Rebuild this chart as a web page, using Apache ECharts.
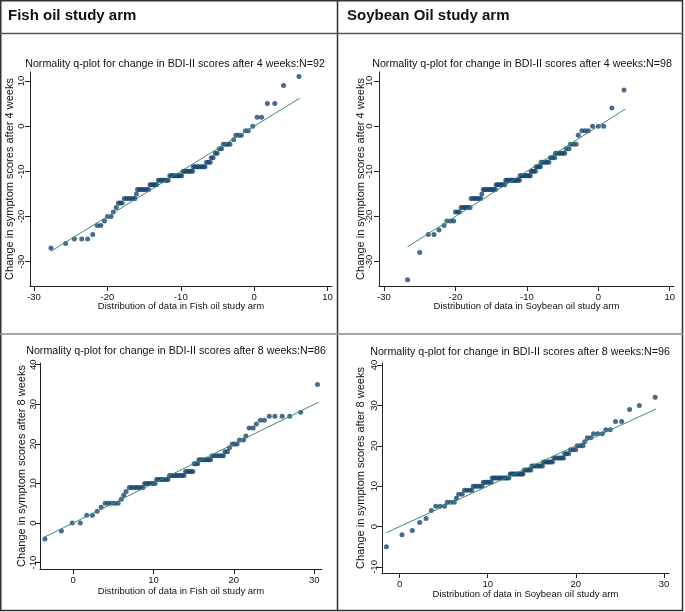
<!DOCTYPE html>
<html>
<head>
<meta charset="utf-8">
<script src="https://cdn.jsdelivr.net/npm/echarts@6/dist/echarts.min.js"></script>
<style>
html,body{margin:0;padding:0;background:#fff;}
#chart{width:685px;height:612px;}
</style>
</head>
<body>
<div id="chart"></div>
<script>
// ---------- headers and titles ----------
const headers = ['Fish oil study arm', 'Soybean Oil study arm'];
const plotTitles = [
  'Normality q-plot for change in BDI-II scores after 4 weeks:N=92',
  'Normality q-plot for change in BDI-II scores after 4 weeks:N=98',
  'Normality q-plot for change in BDI-II scores after 8 weeks:N=86',
  'Normality q-plot for change in BDI-II scores after 8 weeks:N=96'
];
const xTitles = [
  'Distribution of data in Fish oil study arm',
  'Distribution of data in Soybean oil study arm',
  'Distribution of data in Fish oil study arm',
  'Distribution of data in Soybean oil study arm'
];
const yTitles = [
  'Change in symptom scores after 4 weeks',
  'Change in symptom scores after 4 weeks',
  'Change in symptom scores after 8 weeks',
  'Change in symptom scores after 8 weeks'
];

// ---------- tick labels ----------
const xTicks4w = [-30, -20, -10, 0, 10];
const yTicks4w = [-30, -20, -10, 0, 10];
const xTicks8w = [0, 10, 20, 30];
const yTicks8w = [-10, 0, 10, 20, 30, 40];

// ---------- Fish oil, 4 weeks (N=92) ----------
const fish4X = [-27.7,-25.7,-24.5,-23.5,-22.7,-22.0,-21.4,-20.9,-20.4,-20.0,-19.5,-19.2,-18.8,
  -18.5,-18.25,-18.0,
  -17.7,-17.4,-17.1,-16.8,-16.5,-16.25,
  -16.05,
  -15.9,-15.65,-15.4,-15.15,-14.9,-14.65,-14.4,
  -14.2,-13.98,-13.75,-13.52,-13.3,
  -13.05,-12.83,-12.6,-12.38,-12.16,-11.94,-11.72,
  -11.5,-11.3,-11.1,-10.9,-10.7,-10.5,-10.3,-10.1,-9.9,
  -9.7,-9.48,-9.27,-9.05,-8.84,-8.62,-8.4,
  -8.3,-8.07,-7.84,-7.61,-7.38,-7.15,-6.92,-6.7,
  -6.5,-6.25,-6.0,
  -5.85,-5.6,
  -5.3,-5.05,
  -4.75,-4.45,
  -4.2,-3.9,-3.6,-3.3,
  -2.8,
  -2.5,-2.1,-1.75,
  -1.2,-0.8,
  -0.2,
  0.4,1.0,
  1.8,2.8,
  4.0,
  6.1];
const fish4Y = [-27,-26,-25,-25,-25,-24,-22,-22,-21,-20,-20,-19,-18,
  -17,-17,-17,
  -16,-16,-16,-16,-16,-16,
  -15,
  -14,-14,-14,-14,-14,-14,-14,
  -13,-13,-13,-13,-13,
  -12,-12,-12,-12,-12,-12,-12,
  -11,-11,-11,-11,-11,-11,-11,-11,-11,
  -10,-10,-10,-10,-10,-10,-10,
  -9,-9,-9,-9,-9,-9,-9,-9,
  -8,-8,-8,
  -7,-7,
  -6,-6,
  -5,-5,
  -4,-4,-4,-4,
  -3,
  -2,-2,-2,
  -1,-1,
  0,
  2,2,
  5,5,
  9,
  11];
const fish4Line = [-27.7, 6.2];

// ---------- Soybean oil, 4 weeks (N=98) ----------
const soy4X = [-26.7,-25.0,-23.8,-23.0,-22.3,-21.6,
  -21.2,-20.7,-20.25,
  -20.0,-19.7,-19.45,
  -19.2,-18.95,-18.7,-18.45,-18.2,-17.95,
  -17.8,-17.52,-17.24,-16.96,-16.68,-16.45,
  -16.3,
  -16.1,-15.89,-15.68,-15.46,-15.25,-15.04,-14.83,-14.61,-14.4,
  -14.3,-14.1,-13.9,-13.7,-13.5,-13.3,-13.1,
  -12.95,-12.77,-12.6,-12.43,-12.25,-12.08,-11.9,-11.73,-11.56,-11.38,-11.2,-11.05,
  -10.95,-10.77,-10.6,-10.42,-10.24,-10.06,-9.88,-9.7,-9.52,
  -9.4,-9.2,-9.0,-8.8,
  -8.7,-8.5,-8.3,-8.1,
  -8.0,-7.73,-7.46,-7.19,-6.92,
  -6.7,-6.4,-6.1,
  -6.0,-5.74,-5.48,-5.22,-4.96,-4.7,
  -4.5,-4.1,
  -3.9,-3.5,-3.1,
  -2.8,
  -2.3,-1.85,-1.4,
  -0.8,0.0,0.75,
  1.9,
  3.6];
const soy4Y = [-34,-28,-24,-24,-23,-22,
  -21,-21,-21,
  -19,-19,-19,
  -18,-18,-18,-18,-18,-18,
  -16,-16,-16,-16,-16,-16,
  -15,
  -14,-14,-14,-14,-14,-14,-14,-14,-14,
  -13,-13,-13,-13,-13,-13,-13,
  -12,-12,-12,-12,-12,-12,-12,-12,-12,-12,-12,-12,
  -11,-11,-11,-11,-11,-11,-11,-11,-11,
  -10,-10,-10,-10,
  -9,-9,-9,-9,
  -8,-8,-8,-8,-8,
  -7,-7,-7,
  -6,-6,-6,-6,-6,-6,
  -5,-5,
  -4,-4,-4,
  -2,
  -1,-1,-1,
  0,0,0,
  4,
  8];
const soy4Line = [-26.7, 3.8];

// ---------- Fish oil, 8 weeks (N=86) ----------
const fish8X = [-3.5,-1.45,-0.1,0.9,1.7,2.4,3.0,3.5,
  4.0,4.4,4.8,5.2,5.6,
  6.0,6.3,6.6,
  7.0,7.28,7.56,7.85,8.13,8.42,8.7,
  8.9,9.16,9.42,9.68,9.94,10.2,
  10.4,10.63,10.87,11.1,11.33,11.57,11.8,
  12.0,12.22,12.45,12.67,12.9,13.12,13.35,13.57,13.8,
  14.0,14.22,14.45,14.67,14.9,
  15.05,15.28,15.5,
  15.65,15.9,16.15,16.4,16.65,16.9,17.1,
  17.3,17.58,17.86,18.14,18.42,18.7,
  18.9,19.2,
  19.45,
  19.8,20.1,20.4,
  20.7,21.2,
  21.5,
  21.9,22.4,
  22.8,
  23.3,23.8,
  24.4,25.1,26.0,26.95,
  28.3,
  30.4];
const fish8Y = [-4,-2,0,0,2,2,3,4,
  5,5,5,5,5,
  6,7,8,
  9,9,9,9,9,9,9,
  10,10,10,10,10,10,
  11,11,11,11,11,11,11,
  12,12,12,12,12,12,12,12,12,
  13,13,13,13,13,
  15,15,15,
  16,16,16,16,16,16,16,
  17,17,17,17,17,17,
  18,18,
  19,
  20,20,20,
  21,21,
  22,
  24,24,
  25,
  26,26,
  27,27,27,27,
  28,
  35];
const fish8Line = [-3.6, 30.5];

// ---------- Soybean oil, 8 weeks (N=96) ----------
const soy8X = [-1.5,0.27,1.44,2.27,3.0,3.6,
  4.1,4.6,5.1,
  5.4,5.8,6.2,
  6.45,
  6.7,7.1,
  7.35,7.63,7.92,8.2,
  8.35,8.6,8.85,9.1,9.35,
  9.5,9.72,9.95,10.17,10.4,
  10.5,10.69,10.88,11.07,11.26,11.45,11.64,11.83,12.02,12.21,12.4,
  12.55,12.71,12.88,13.04,13.2,13.37,13.53,13.7,13.86,14.0,
  14.15,14.33,14.52,14.7,14.88,
  15.0,15.2,15.4,15.6,15.8,16.0,16.2,
  16.32,16.53,16.74,16.94,17.15,17.35,
  17.5,17.72,17.94,18.16,18.38,18.6,
  18.72,18.95,19.18,
  19.38,19.68,19.98,
  20.15,20.47,20.8,
  21.0,
  21.3,21.7,
  22.0,22.5,23.0,
  23.4,23.9,
  24.5,25.2,
  26.1,
  27.2,
  29.0];
const soy8Y = [-5,-2,-1,1,2,4,
  5,5,5,
  6,6,6,
  7,
  8,8,
  9,9,9,9,
  10,10,10,10,10,
  11,11,11,11,11,
  12,12,12,12,12,12,12,12,12,12,12,
  13,13,13,13,13,13,13,13,13,13,
  14,14,14,14,14,
  15,15,15,15,15,15,15,
  16,16,16,16,16,16,
  17,17,17,17,17,17,
  18,18,18,
  19,19,19,
  20,20,20,
  21,
  22,22,
  23,23,23,
  24,24,
  26,26,
  29,
  30,
  32];
const soy8Line = [-1.5, 29.1];

// ---------- build chart ----------
const FONT = 'Liberation Sans, Arial, sans-serif';
const dotColor = '#1a476f';
const lineColor = '#3d8c78';

const panels = [
  {x: fish4X, y: fish4Y, line: fish4Line, xt: xTicks4w, yt: yTicks4w,
   grid: {left: 30, top: 72, width: 302, height: 214}, xr: [-30.55, 10.6], yr: [-35.4, 12.0],
   title: [175, 64], xnameGap: 15, ynameGap: 14.5, ylabMargin: 3.5},
  {x: soy4X, y: soy4Y, line: soy4Line, xt: xTicks4w, yt: yTicks4w,
   grid: {left: 379, top: 72, width: 295, height: 214}, xr: [-30.7, 10.6], yr: [-35.4, 12.0],
   title: [522, 64], xnameGap: 15, ynameGap: 12.5, ylabMargin: 5},
  {x: fish8X, y: fish8Y, line: fish8Line, xt: xTicks8w, yt: yTicks8w,
   grid: {left: 40, top: 363, width: 282, height: 206}, xr: [-4.11, 30.96], yr: [-11.6, 40.43],
   title: [176, 351], xnameGap: 17, ynameGap: 13, ylabMargin: 1.5},
  {x: soy8X, y: soy8Y, line: soy8Line, xt: xTicks8w, yt: yTicks8w,
   grid: {left: 382, top: 363, width: 287, height: 210}, xr: [-2.0, 30.57], yr: [-11.5, 40.5],
   title: [520, 352], xnameGap: 16, ynameGap: 15.5, ylabMargin: 2.5}
];

const grids = [], xAxes = [], yAxes = [], series = [];
const graphics = [];

panels.forEach((p, i) => {
  grids.push(Object.assign({containLabel: false}, p.grid));
  xAxes.push({
    type: 'value', gridIndex: i, min: p.xr[0], max: p.xr[1],
    name: xTitles[i], nameLocation: 'middle', nameGap: p.xnameGap, nameMoveOverlap: false,
    nameTextStyle: {fontFamily: FONT, fontSize: 9.5, color: '#111'},
    axisLine: {show: true, onZero: false, lineStyle: {color: '#222', width: 1}},
    axisTick: {show: true, length: 5, customValues: p.xt, lineStyle: {color: '#222'}},
    axisLabel: {show: true, customValues: p.xt, margin: 6, fontFamily: FONT, fontSize: 9.5, color: '#111'},
    splitLine: {show: false}
  });
  yAxes.push({
    type: 'value', gridIndex: i, min: p.yr[0], max: p.yr[1],
    name: yTitles[i], nameLocation: 'middle', nameGap: p.ynameGap, nameRotate: 90, nameMoveOverlap: false,
    nameTextStyle: {fontFamily: FONT, fontSize: 11, color: '#111'},
    axisLine: {show: true, onZero: false, lineStyle: {color: '#222', width: 1}},
    axisTick: {show: true, length: 5, customValues: p.yt, lineStyle: {color: '#222'}},
    axisLabel: {show: true, customValues: p.yt, rotate: 90, margin: p.ylabMargin, fontFamily: FONT, fontSize: 9.5, color: '#111'},
    splitLine: {show: false}
  });
  series.push({
    type: 'scatter', xAxisIndex: i, yAxisIndex: i,
    data: p.x.map((v, k) => [v, p.y[k]]),
    symbol: 'circle', symbolSize: 5,
    itemStyle: {color: dotColor}
  });
  series.push({
    type: 'line', xAxisIndex: i, yAxisIndex: i,
    data: [[p.line[0], p.line[0]], [p.line[1], p.line[1]]],
    showSymbol: false, symbol: 'none',
    lineStyle: {color: lineColor, width: 1}
  });
  graphics.push({
    type: 'text', x: p.title[0], y: p.title[1], z: 10,
    style: {text: plotTitles[i], fontFamily: FONT, fontSize: 10.7, fill: '#111',
            textAlign: 'center', textVerticalAlign: 'middle'}
  });
});

// table borders
const lineStyleDark = {stroke: '#333', lineWidth: 1.5};
graphics.push(
  {type: 'line', shape: {x1: 0, y1: 0.75, x2: 683, y2: 0.75}, style: lineStyleDark},
  {type: 'line', shape: {x1: 0.75, y1: 0, x2: 0.75, y2: 611}, style: lineStyleDark},
  {type: 'line', shape: {x1: 682.5, y1: 0, x2: 682.5, y2: 611}, style: lineStyleDark},
  {type: 'line', shape: {x1: 0, y1: 610.5, x2: 683, y2: 610.5}, style: lineStyleDark},
  {type: 'line', shape: {x1: 337.5, y1: 0, x2: 337.5, y2: 611}, style: lineStyleDark},
  {type: 'line', shape: {x1: 0, y1: 33.5, x2: 683, y2: 33.5}, style: {stroke: '#555', lineWidth: 1.5}},
  {type: 'line', shape: {x1: 0, y1: 334, x2: 683, y2: 334}, style: {stroke: '#888', lineWidth: 1.5}},
  {type: 'text', x: 8, y: 16, style: {text: headers[0], fontFamily: FONT, fontWeight: 'bold', fontSize: 15, fill: '#111', textVerticalAlign: 'middle'}},
  {type: 'text', x: 347, y: 16, style: {text: headers[1], fontFamily: FONT, fontWeight: 'bold', fontSize: 15, fill: '#111', textVerticalAlign: 'middle'}}
);

const chart = echarts.init(document.getElementById('chart'), null, {renderer: 'canvas'});
chart.setOption({
  animation: false,
  backgroundColor: '#fff',
  grid: grids,
  xAxis: xAxes,
  yAxis: yAxes,
  series: series,
  graphic: graphics
});
</script>
</body>
</html>
